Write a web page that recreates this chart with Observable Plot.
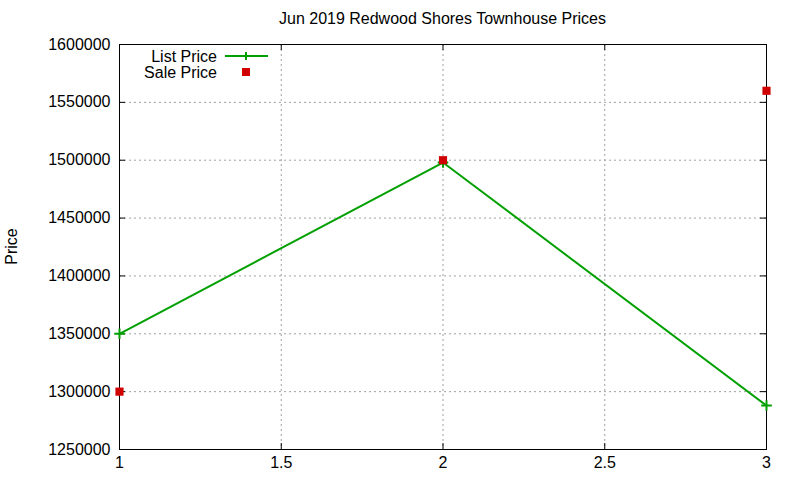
<!DOCTYPE html>
<html>
<head>
<meta charset="utf-8">
<script src="https://cdn.jsdelivr.net/npm/d3@7"></script>
<script src="https://cdn.jsdelivr.net/npm/@observablehq/plot@0.6"></script>
<style>
  html, body { margin: 0; padding: 0; background: #fff; }
  #wrap { position: relative; width: 800px; height: 480px; font-family: "Liberation Sans", Arial, sans-serif; }
  #title { position: absolute; left: 119px; width: 647px; top: 10px; text-align: center; font-size: 16px; color: #000; }
  #chart { position: absolute; left: 0; top: 0; }
</style>
</head>
<body>
<div id="wrap">
  <div id="chart"></div>
  <div id="title">Jun 2019 Redwood Shores Townhouse Prices</div>
</div>
<script>
const months = [1, 2, 3];
const listPrice = [1350000, 1498000, 1288000];
const salePrice = [1300000, 1500000, 1560000];
const xTicks = [1, 1.5, 2, 2.5, 3];
const yTicks = [1250000, 1300000, 1350000, 1400000, 1450000, 1500000, 1550000, 1600000];
const seriesNames = ["List Price", "Sale Price"];

const listData = months.map((m, i) => ({x: m, y: listPrice[i]}));
const saleData = months.map((m, i) => ({x: m, y: salePrice[i]}));

const W = 800, H = 480;
const mL = 119, mR = 34, mT = 44, mB = 31;
const fw = W - mL - mR, fh = H - mT - mB;
const green = "#00a000", red = "#d00000";

const chart = Plot.plot({
  width: W, height: H,
  marginLeft: mL, marginRight: mR, marginTop: mT, marginBottom: mB,
  style: {fontFamily: "Liberation Sans, Arial, sans-serif", fontSize: "16px", color: "#000", background: "#fff"},
  x: {domain: [1, 3], ticks: xTicks, tickFormat: d => String(d), label: null},
  y: {domain: [1250000, 1600000], ticks: yTicks, tickFormat: d => String(d), label: null},
  marks: [
    Plot.gridX(xTicks, {stroke: "#a0a0a0", strokeOpacity: 1, strokeDasharray: "2,3", strokeWidth: 1}),
    Plot.gridY(yTicks, {stroke: "#a0a0a0", strokeOpacity: 1, strokeDasharray: "2,3", strokeWidth: 1}),
    Plot.axisX(xTicks, {tickSize: 0, tickPadding: 7, fontSize: 16, tickFormat: d => String(d), label: null}),
    Plot.axisY(yTicks, {tickSize: 0, tickPadding: 9, fontSize: 16, tickFormat: d => String(d), label: null}),
    Plot.tickY(yTicks, {y: d => d, stroke: "#000", insetRight: fw - 6}),
    Plot.tickY(yTicks, {y: d => d, stroke: "#000", insetLeft: fw - 6}),
    Plot.tickX(xTicks, {x: d => d, stroke: "#000", insetTop: fh - 6}),
    Plot.tickX(xTicks, {x: d => d, stroke: "#000", insetBottom: fh - 6}),
    Plot.frame({stroke: "#000", strokeWidth: 1}),
    Plot.line(listData, {x: "x", y: "y", stroke: green, strokeWidth: 2}),
    Plot.dot(listData, {x: "x", y: "y", symbol: "plus", r: 3.5, stroke: green, strokeWidth: 2}),
    Plot.dot(saleData, {x: "x", y: "y", symbol: "square", r: 4.6, fill: red, stroke: "none"})
  ]
});
document.getElementById("chart").appendChild(chart);

// y-axis title and legend
const svg = d3.select(chart);
svg.append("text")
  .attr("transform", `translate(17,${mT + fh / 2}) rotate(-90)`)
  .attr("text-anchor", "middle").attr("font-size", 16).attr("fill", "#000")
  .text("Price");

const lg = svg.append("g").attr("font-size", 16).attr("fill", "#000");
lg.append("text").attr("x", 217).attr("y", 56).attr("dy", "0.35em").attr("text-anchor", "end").text(seriesNames[0]);
lg.append("line").attr("x1", 225).attr("x2", 268).attr("y1", 56).attr("y2", 56).attr("stroke", green).attr("stroke-width", 2);
lg.append("path").attr("d", "M242,56h8M246,52v8").attr("stroke", green).attr("stroke-width", 2);
lg.append("text").attr("x", 217).attr("y", 72).attr("dy", "0.35em").attr("text-anchor", "end").text(seriesNames[1]);
lg.append("rect").attr("x", 242).attr("y", 68).attr("width", 8).attr("height", 8).attr("fill", red);
</script>
</body>
</html>
